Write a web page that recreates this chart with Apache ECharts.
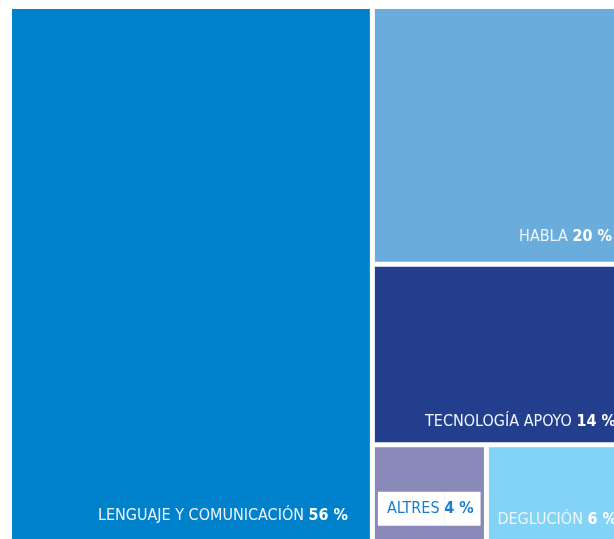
<!DOCTYPE html>
<html>
<head>
<meta charset="utf-8">
<script src="https://cdn.jsdelivr.net/npm/echarts@6/dist/echarts.min.js"></script>
<style>
  html, body { margin: 0; padding: 0; background: #fff; }
  #main { width: 614px; height: 539px; }
</style>
</head>
<body>
<div id="main"></div>
<script>
// datos del treemap (orden de dibujo)
var categories = ['LENGUAJE Y COMUNICACIÓN', 'HABLA', 'TECNOLOGÍA APOYO', 'ALTRES', 'DEGLUCIÓN'];
var values = [56, 20, 14, 4, 6];
var colors = ['#0081cb', '#6aaddd', '#233e8c', '#8888b9', '#83d3f7'];

var font = '"Liberation Sans Narrow", "DejaVu Sans Condensed", "Roboto", sans-serif';

// posicion (arriba del texto) de cada etiqueta dentro de su rectangulo
var labelPos = [
    {position: [336, 498], align: 'right'},
    {position: [237, 219], align: 'right'},
    {position: [241, 147], align: 'right'},
    {position: [3, 53], align: 'left'},
    {position: [128, 64], align: 'right'}
];

var myChart = echarts.init(document.getElementById('main'), null, {renderer: 'canvas'});

var data = categories.map(function (name, i) {
    var isBox = name === 'ALTRES';
    var txt = isBox ? '#1a7ec9' : '#eef5fb';
    return {
        name: name,
        value: values[i],
        itemStyle: {color: colors[i]},
        label: {
            position: labelPos[i].position,
            align: labelPos[i].align,
            verticalAlign: 'top',
            overflow: 'none',
            padding: 0,
            rich: {
                n: {
                    fontFamily: font, fontSize: 16, color: txt, lineHeight: 17,
                    backgroundColor: isBox ? '#fff' : 'transparent',
                    padding: isBox ? [9, 0, 9, 9] : 0
                },
                p: {
                    fontFamily: font, fontSize: 16, fontWeight: 'bold', lineHeight: 17,
                    color: isBox ? '#1a7ec9' : '#ffffff',
                    backgroundColor: isBox ? '#fff' : 'transparent',
                    padding: isBox ? [9, 7, 9, 0] : 0
                }
            }
        }
    };
});

var option = {
    animation: false,
    series: [{
        type: 'treemap',
        left: 12,
        top: 9,
        width: 643,
        height: 562,
        roam: false,
        nodeClick: false,
        sort: false,
        squareRatio: 1,
        breadcrumb: {show: false},
        itemStyle: {gapWidth: 5, borderWidth: 0, borderColor: '#fff'},
        label: {
            show: true,
            overflow: 'none',
            padding: 0,
            formatter: function (p) {
                return '{n|' + p.name + ' }{p|' + p.value + ' %}';
            }
        },
        data: data
    }]
};

myChart.setOption(option);
</script>
</body>
</html>
